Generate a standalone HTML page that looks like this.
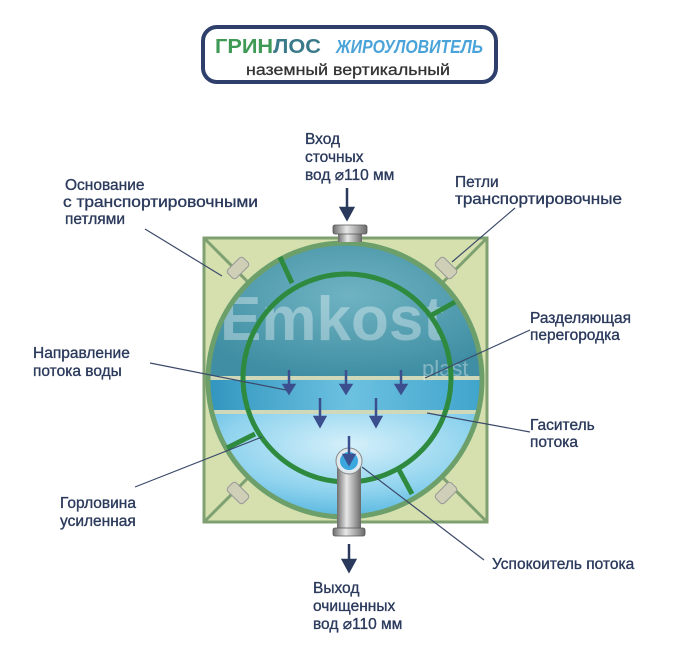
<!DOCTYPE html>
<html><head><meta charset="utf-8"><style>
html,body{margin:0;padding:0;background:#fff;}
svg{display:block}
text{font-family:"Liberation Sans",sans-serif;}
.l{font-size:15.5px;fill:#2b3a5c;stroke:#2b3a5c;stroke-width:0.35;}
</style></head><body>
<svg width="700" height="670" viewBox="0 0 700 670" xmlns="http://www.w3.org/2000/svg">
<defs>
<radialGradient id="top" cx="0.5" cy="0.4" r="0.6">
<stop offset="0" stop-color="#6fb3c2"/><stop offset="1" stop-color="#3f8ea3"/></radialGradient>
<linearGradient id="mid" x1="0" y1="0" x2="1" y2="0">
<stop offset="0" stop-color="#2f93bd"/><stop offset="0.5" stop-color="#6cc1e0"/><stop offset="1" stop-color="#3aa0c9"/></linearGradient>
<radialGradient id="bot" cx="0.5" cy="0.3" r="0.7">
<stop offset="0" stop-color="#d5f0fa"/><stop offset="0.6" stop-color="#8fd3ee"/><stop offset="1" stop-color="#4fb3dd"/></radialGradient>
<linearGradient id="pipe" x1="0" y1="0" x2="1" y2="0">
<stop offset="0" stop-color="#6d6d6d"/><stop offset="0.4" stop-color="#e8e8e8"/><stop offset="1" stop-color="#6a6a6a"/></linearGradient>
<clipPath id="c"><circle cx="345" cy="380" r="136"/></clipPath>
</defs>
<!-- title -->
<rect x="203" y="27" width="293" height="55" rx="14" fill="#fff" stroke="#2d3f6a" stroke-width="4"/>
<text x="215" y="53" font-size="20" font-weight="bold" fill="#3f9a55" textLength="106" lengthAdjust="spacingAndGlyphs">ГРИН<tspan fill="#3a7a8a">ЛОС</tspan></text>
<text x="336" y="53" font-size="18" font-weight="bold" font-style="italic" fill="#4aa3d9" textLength="147" lengthAdjust="spacingAndGlyphs">ЖИРОУЛОВИТЕЛЬ</text>
<text x="348" y="75" font-size="16" fill="#333" stroke="#333" stroke-width="0.3" text-anchor="middle" textLength="204" lengthAdjust="spacingAndGlyphs">наземный вертикальный</text>
<!-- base -->
<rect x="204" y="238" width="283" height="284" fill="#d5e0ae" stroke="#7fa070" stroke-width="3"/>
<line x1="204" y1="238" x2="487" y2="522" stroke="#7fa070" stroke-width="3"/>
<line x1="487" y1="238" x2="204" y2="522" stroke="#7fa070" stroke-width="3"/>
<g fill="#cfcfb8" stroke="#999" stroke-width="1">
<rect x="232" y="257" width="12" height="22" rx="3" transform="rotate(45 238 268)"/>
<rect x="440" y="257" width="12" height="22" rx="3" transform="rotate(-45 446 268)"/>
<rect x="232" y="482" width="12" height="22" rx="3" transform="rotate(-45 238 493)"/>
<rect x="440" y="482" width="12" height="22" rx="3" transform="rotate(45 446 493)"/>
</g>
<!-- tank -->
<g clip-path="url(#c)">
<rect x="200" y="240" width="300" height="138" fill="url(#top)"/>
<rect x="200" y="378" width="300" height="34" fill="url(#mid)"/>
<rect x="200" y="412" width="300" height="110" fill="url(#bot)"/>
<rect x="200" y="376" width="300" height="4" fill="#cfd8b8"/>
<rect x="200" y="410" width="300" height="4" fill="#cfd8b8"/>
<text x="220" y="340" font-size="62" font-weight="bold" fill="#ffffff" fill-opacity="0.35">Emkost</text>
<text x="422" y="376" font-size="22" fill="#ffffff" fill-opacity="0.35">plast</text>
</g>
<circle cx="345" cy="380" r="137" fill="none" stroke="#6c9f6a" stroke-width="5"/>
<circle cx="347" cy="378" r="104" fill="none" stroke="#2e8a3e" stroke-width="5"/>
<g stroke="#2e8a3e" stroke-width="5">
<line x1="280" y1="257" x2="292" y2="283"/>
<line x1="455" y1="302" x2="430" y2="316"/>
<line x1="227" y1="448" x2="255" y2="434"/>
<line x1="398" y1="468" x2="412" y2="494"/>
</g>
<!-- pipes -->
<rect x="338" y="232" width="24" height="10" fill="url(#pipe)"/>
<rect x="333" y="225" width="34" height="9" rx="2" fill="url(#pipe)" stroke="#555" stroke-width="0.8"/>
<rect x="337" y="462" width="24" height="68" fill="url(#pipe)"/>
<rect x="333" y="528" width="32" height="8" rx="2" fill="url(#pipe)" stroke="#555" stroke-width="0.8"/>
<circle cx="349" cy="461" r="13" fill="#dfe9ee" stroke="#888"/>
<circle cx="349" cy="461" r="9" fill="#3aa7df"/>
<!-- flow arrows -->
<g stroke="#3b4f8f" stroke-width="2.5" fill="#3b4f8f">
<line x1="289" y1="370" x2="289" y2="386"/><polygon points="284,385 294,385 289,393"/>
<line x1="346" y1="370" x2="346" y2="386"/><polygon points="341,385 351,385 346,393"/>
<line x1="401" y1="370" x2="401" y2="386"/><polygon points="396,385 406,385 401,393"/>
<line x1="320" y1="398" x2="320" y2="418"/><polygon points="315,417 325,417 320,426"/>
<line x1="376" y1="398" x2="376" y2="418"/><polygon points="371,417 381,417 376,426"/>
<line x1="349" y1="436" x2="349" y2="456"/><polygon points="344,455 354,455 349,464"/>
</g>
<!-- in/out arrows -->
<g stroke="#2b3a5c" stroke-width="2.5" fill="#2b3a5c">
<line x1="347" y1="188" x2="347" y2="210"/><polygon points="341,208 353,208 347,219"/>
<line x1="349" y1="544" x2="349" y2="562"/><polygon points="343,560 355,560 349,571"/>
</g>
<!-- leaders -->
<g stroke="#3b4a6a" stroke-width="1.2">
<line x1="145" y1="229" x2="222" y2="276"/>
<line x1="515" y1="208" x2="452" y2="262"/>
<line x1="530" y1="330" x2="425" y2="378"/>
<line x1="150" y1="363" x2="286" y2="390"/>
<line x1="530" y1="432" x2="427" y2="413"/>
<line x1="135" y1="487" x2="262" y2="437"/>
<line x1="484" y1="560" x2="362" y2="467"/>
</g>
<!-- labels -->
<text class="l" x="305" y="144">Вход</text>
<text class="l" x="305" y="162">сточных</text>
<text class="l" x="305" y="180">вод ⌀110 мм</text>
<text class="l" x="65" y="190">Основание</text>
<text class="l" x="63" y="207" textLength="195" lengthAdjust="spacingAndGlyphs">с транспортировочными</text>
<text class="l" x="65" y="224">петлями</text>
<text class="l" x="455" y="187">Петли</text>
<text class="l" x="455" y="204" textLength="167" lengthAdjust="spacingAndGlyphs">транспортировочные</text>
<text class="l" x="530" y="323">Разделяющая</text>
<text class="l" x="530" y="340">перегородка</text>
<text class="l" x="33" y="358">Направление</text>
<text class="l" x="33" y="376">потока воды</text>
<text class="l" x="530" y="430">Гаситель</text>
<text class="l" x="530" y="447">потока</text>
<text class="l" x="60" y="508">Горловина</text>
<text class="l" x="60" y="526">усиленная</text>
<text class="l" x="492" y="569">Успокоитель потока</text>
<text class="l" x="313" y="593">Выход</text>
<text class="l" x="313" y="611">очищенных</text>
<text class="l" x="313" y="629">вод ⌀110 мм</text>
</svg>
</body></html>
